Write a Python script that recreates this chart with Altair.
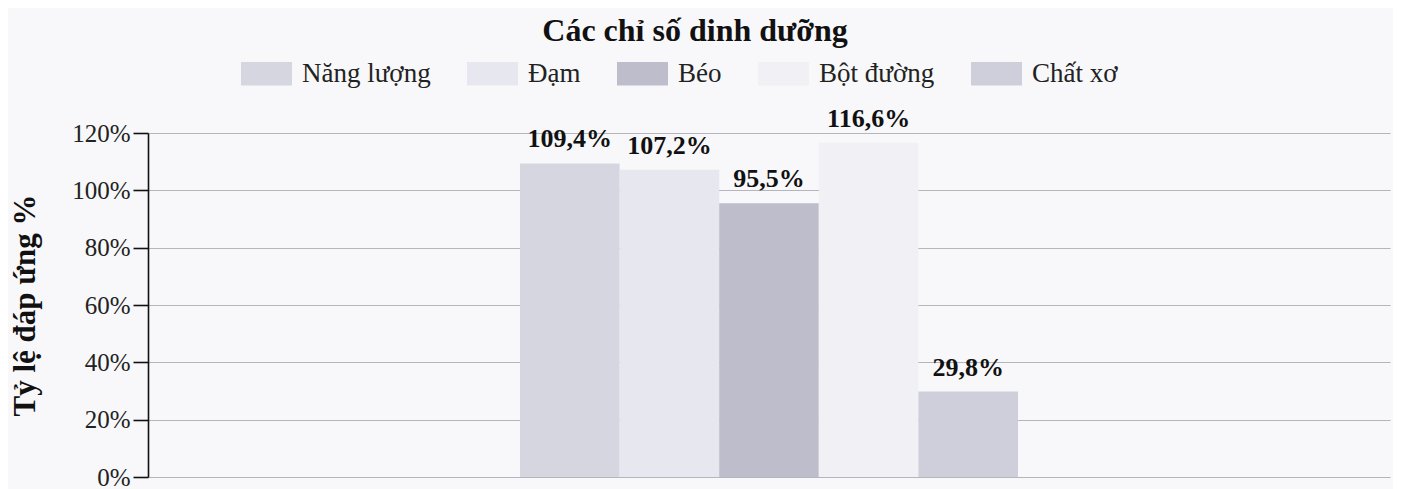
import altair as alt
import pandas as pd

names = ["Năng lượng", "Đạm", "Béo", "Bột đường", "Chất xơ"]
values = [109.4, 107.2, 95.5, 116.6, 29.8]
colors = ["#d6d6e1", "#e7e7ef", "#bdbdcb", "#f0f0f5", "#cfcfdb"]
y_ticks = [0, 20, 40, 60, 80, 100, 120]

df = pd.DataFrame({
    "group": ["g"] * len(names),
    "name": names,
    "value": values,
    "label": [f"{v:.1f}".replace(".", ",") + "%" for v in values],
})

FONT = "Liberation Serif"

x_enc = alt.X("group:N", axis=None, scale=alt.Scale(paddingOuter=0.747, paddingInner=0))
xo_enc = alt.XOffset("name:N", sort=names, scale=alt.Scale(paddingInner=0, paddingOuter=0))

bars = alt.Chart(df).mark_bar().encode(
    x=x_enc,
    xOffset=xo_enc,
    y=alt.Y(
        "value:Q",
        scale=alt.Scale(domain=[0, 120], nice=False),
        axis=alt.Axis(
            values=y_ticks,
            labelExpr="datum.value + '%'",
            title="Tỷ lệ đáp ứng %",
            titleFont=FONT,
            titleFontSize=31,
            titleFontWeight="bold",
            titleColor="#111111",
            titlePadding=30,
            labelFont=FONT,
            labelFontSize=25,
            labelColor="#222222",
            labelPadding=3,
            domainColor="#111111",
            domainWidth=1.6,
            tickColor="#111111",
            tickWidth=1.6,
            tickSize=15,
            grid=True,
            gridColor="#b5b5be",
            gridWidth=1,
        ),
    ),
    color=alt.Color(
        "name:N",
        sort=names,
        scale=alt.Scale(domain=names, range=colors),
        legend=alt.Legend(
            title=None,
            orient="none",
            direction="horizontal",
            legendX=93,
            legendY=-85,
            symbolType="M-1,-0.46H1V0.46H-1Z",
            symbolSize=2600,
            symbolStrokeWidth=0,
            symbolOpacity=1,
            labelFont=FONT,
            labelFontSize=27,
            labelColor="#222222",
            labelOffset=10,
            columnPadding=36,
        ),
    ),
)

labels = alt.Chart(df).mark_text(
    font=FONT, fontSize=26, fontWeight="bold", color="#111111",
    baseline="alphabetic", dy=-16,
).encode(
    x=x_enc,
    xOffset=xo_enc,
    y=alt.Y("value:Q"),
    text="label:N",
)

chart = (bars + labels).properties(
    width=1242,
    height=344,
    title=alt.TitleParams(
        "Các chỉ số dinh dưỡng",
        font=FONT,
        fontSize=32,
        fontWeight="bold",
        color="#111111",
        anchor="middle",
        dx=-74,
        dy=4,
    ),
    background="#f8f8fa",
    autosize=alt.AutoSizeParams(type="none"),
    padding={"left": 140, "top": 125, "right": 3, "bottom": 12},
).configure_view(stroke=None)

chart.save("out.html", embed_options={"renderer": "svg", "actions": False})
